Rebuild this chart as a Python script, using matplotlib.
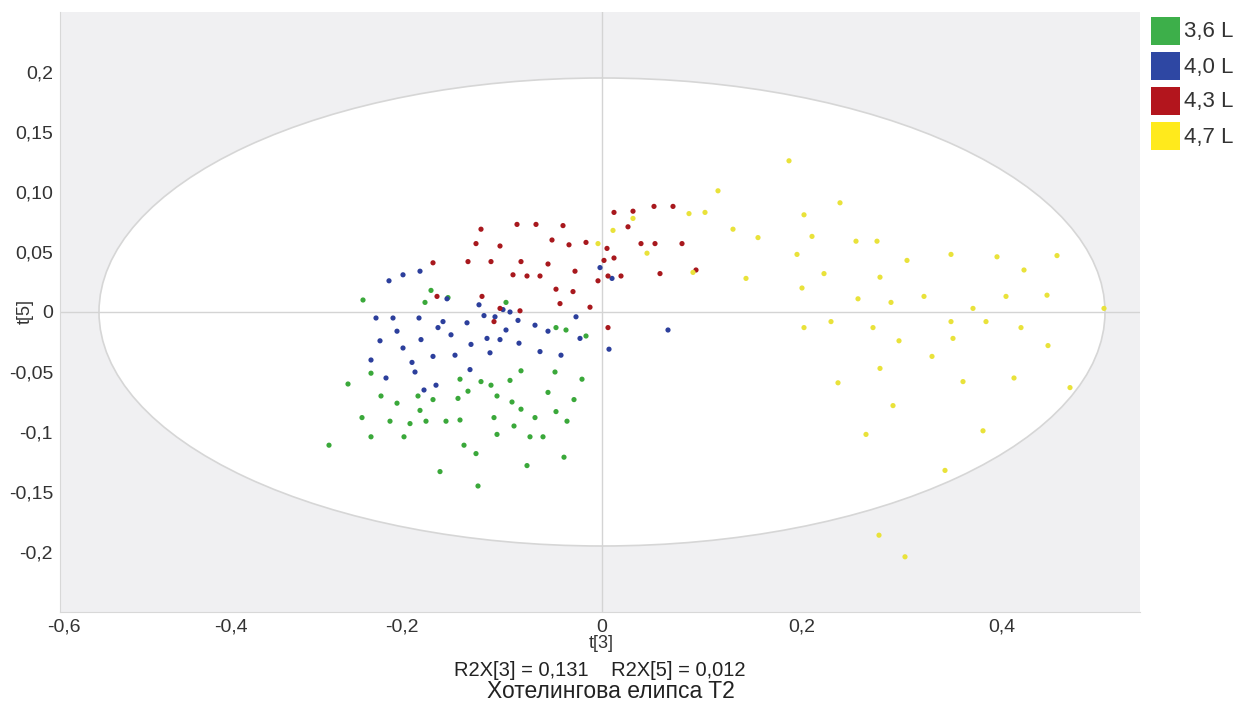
import matplotlib
matplotlib.use("Agg")
import matplotlib.pyplot as plt
from matplotlib.patches import Ellipse, Rectangle

plt.rcParams['font.family'] = ['Liberation Sans', 'DejaVu Sans']

# --- data (t[3], t[5]) ---
green_x = [-0.239, -0.273, -0.254, -0.240, -0.231, -0.231, -0.221, -0.212, -0.205, -0.198,
           -0.192, -0.184, -0.182, -0.176, -0.169, -0.171, -0.162, -0.156, -0.144, -0.142,
           -0.138, -0.134, -0.121, -0.124, -0.126, -0.111, -0.108, -0.105, -0.105, -0.090,
           -0.088, -0.081, -0.075, -0.072, -0.067, -0.059, -0.054, -0.047, -0.046, -0.038,
           -0.035, -0.028, -0.020, -0.096, -0.036, -0.046, -0.016, -0.154, -0.177, -0.081,
           -0.142, -0.092]
green_y = [0.010, -0.111, -0.060, -0.088, -0.104, -0.051, -0.070, -0.091, -0.076, -0.104,
           -0.093, -0.070, -0.082, -0.091, -0.073, 0.018, -0.133, -0.091, -0.072, -0.090,
           -0.111, -0.066, -0.058, -0.145, -0.118, -0.061, -0.088, -0.070, -0.102, -0.075,
           -0.095, -0.081, -0.128, -0.104, -0.088, -0.104, -0.067, -0.050, -0.083, -0.121,
           -0.091, -0.073, -0.056, 0.008, -0.015, -0.013, -0.020, 0.012, 0.008, -0.049,
           -0.056, -0.057]

blue_x = [-0.199, -0.182, -0.213, -0.226, -0.209, -0.222, -0.231, -0.216, -0.205, -0.199,
          -0.190, -0.183, -0.181, -0.178, -0.169, -0.164, -0.159, -0.155, -0.151, -0.147,
          -0.135, -0.131, -0.123, -0.118, -0.115, -0.112, -0.107, -0.102, -0.099, -0.096,
          -0.092, -0.084, -0.083, -0.067, -0.062, -0.054, -0.041, -0.026, -0.022, -0.002,
          0.010, 0.007, 0.066, -0.166, -0.187, -0.132]
blue_y = [0.031, 0.034, 0.026, -0.005, -0.005, -0.024, -0.040, -0.055, -0.016, -0.030,
          -0.042, -0.005, -0.023, -0.065, -0.037, -0.013, -0.008, 0.011, -0.019, -0.036,
          -0.009, -0.027, 0.006, -0.003, -0.022, -0.034, -0.004, -0.023, 0.002, -0.015,
          0.000, -0.007, -0.026, -0.011, -0.033, -0.016, -0.036, -0.004, -0.022, 0.037,
          0.028, -0.031, -0.015, -0.061, -0.050, -0.048]

red_x = [-0.085, -0.066, -0.039, -0.121, -0.126, -0.102, -0.050, -0.033, -0.016, 0.012,
         0.031, 0.052, 0.071, 0.026, 0.002, 0.012, 0.005, 0.006, -0.004, 0.019,
         -0.027, -0.054, -0.029, -0.046, -0.075, -0.089, -0.081, -0.111, -0.134, -0.169,
         -0.062, -0.120, -0.165, 0.058, 0.080, 0.094, 0.039, 0.053, 0.006, -0.042,
         -0.102, -0.082, -0.108, -0.012]
red_y = [0.073, 0.073, 0.072, 0.069, 0.057, 0.055, 0.060, 0.056, 0.058, 0.083,
         0.084, 0.088, 0.088, 0.071, 0.043, 0.045, 0.053, 0.030, 0.026, 0.030,
         0.034, 0.040, 0.017, 0.019, 0.030, 0.031, 0.042, 0.042, 0.042, 0.041,
         0.030, 0.013, 0.013, 0.032, 0.057, 0.035, 0.057, 0.057, -0.013, 0.007,
         0.003, 0.001, -0.008, 0.004]

yellow_x = [0.187, 0.116, 0.238, 0.202, 0.131, 0.210, 0.156, 0.254, 0.275, 0.195,
            0.349, 0.395, 0.455, 0.305, 0.222, 0.422, 0.144, 0.278, 0.091, 0.200,
            0.404, 0.445, 0.256, 0.289, 0.322, 0.371, 0.502, 0.202, 0.229, 0.271,
            0.349, 0.384, 0.419, 0.297, 0.351, 0.446, 0.330, 0.278, 0.361, 0.236,
            0.412, 0.468, 0.291, 0.264, 0.381, 0.343, 0.277, 0.303, -0.004, 0.011,
            0.031, 0.045, 0.087, 0.103]
yellow_y = [0.126, 0.101, 0.091, 0.081, 0.069, 0.063, 0.062, 0.059, 0.059, 0.048,
            0.048, 0.046, 0.047, 0.043, 0.032, 0.035, 0.028, 0.029, 0.033, 0.020,
            0.013, 0.014, 0.011, 0.008, 0.013, 0.003, 0.003, -0.013, -0.008, -0.013,
            -0.008, -0.008, -0.013, -0.024, -0.022, -0.028, -0.037, -0.047, -0.058, -0.059,
            -0.055, -0.063, -0.078, -0.102, -0.099, -0.132, -0.186, -0.204, 0.057, 0.068,
            0.078, 0.049, 0.082, 0.083]

groups = ['3,6 L', '4,0 L', '4,3 L', '4,7 L']
point_colors = ['#3aa83a', '#2c3f9c', '#a8181d', '#e9e23a']
legend_colors = ['#3daf4a', '#2e47a3', '#b3151d', '#ffea1c']

# Hotelling T2 ellipse semi-axes
ell_a = 0.503
ell_b = 0.195

yticks = [0.2, 0.15, 0.10, 0.05, 0, -0.05, -0.1, -0.15, -0.2]
ytick_labels = ['0,2', '0,15', '0,10', '0,05', '0', '-0,05', '-0,1', '-0,15', '-0,2']
# labels sit where the reference draws them
xticks = [-0.538, -0.371, -0.2, 0, 0.2, 0.4]
xtick_labels = ['-0,6', '-0,4', '-0,2', '0', '0,2', '0,4']

fig = plt.figure(figsize=(12.37, 7.02), dpi=100)
ax = fig.add_axes([60 / 1237, 90 / 702, 1080 / 1237, 600 / 702])
ax.set_facecolor('#f0f0f2')

ax.add_patch(Ellipse((0, 0), 2 * ell_a, 2 * ell_b, facecolor='white',
                     edgecolor='#d6d6d6', linewidth=1.2, zorder=1))
ax.axhline(0, color='#d4d4d4', linewidth=1, zorder=2)
ax.axvline(0, color='#d4d4d4', linewidth=1, zorder=2)

all_x = [green_x, blue_x, red_x, yellow_x]
all_y = [green_y, blue_y, red_y, yellow_y]
for xs, ys, c in zip(all_x, all_y, point_colors):
    ax.scatter(xs, ys, s=14, color=c, edgecolors='none', zorder=3)

ax.set_xlim(-0.542, 0.538)
ax.set_ylim(-0.25, 0.25)
ax.set_xticks(xticks)
ax.set_xticklabels(xtick_labels)
ax.set_yticks(yticks)
ax.set_yticklabels(ytick_labels)
ax.tick_params(length=0, labelsize=14, colors='#333333')
ax.tick_params(axis='x', pad=5)
ax.tick_params(axis='y', pad=5)

for s in ['top', 'right']:
    ax.spines[s].set_visible(False)
for s in ['left', 'bottom']:
    ax.spines[s].set_color('#d8d8d8')

fig.text(25 / 1237, 1 - 311 / 702, 't[5]', rotation=90, ha='center', va='center',
         fontsize=13, color='#333333')
fig.text(601 / 1237, 1 - 644 / 702, 't[3]', ha='center', va='center', fontsize=13, color='#333333')
fig.text(600 / 1237, 1 - 671 / 702, 'R2X[3] = 0,131    R2X[5] = 0,012', ha='center', va='center',
         fontsize=14.5, color='#222222')
fig.text(611 / 1237, 1 - 692 / 702, 'Хотелингова елипса T2', ha='center', va='center',
         fontsize=16.5, color='#222222')

# legend on the right
for i, (lab, c) in enumerate(zip(groups, legend_colors)):
    top = 17 + i * 35
    fig.add_artist(Rectangle((1151 / 1237, 1 - (top + 28) / 702), 29 / 1237, 28 / 702,
                             transform=fig.transFigure, facecolor=c, edgecolor='none'))
    fig.text(1184 / 1237, 1 - (top + 15) / 702, lab, ha='left', va='center',
             fontsize=16, color='#333333')

plt.savefig('out.png', dpi=100)
